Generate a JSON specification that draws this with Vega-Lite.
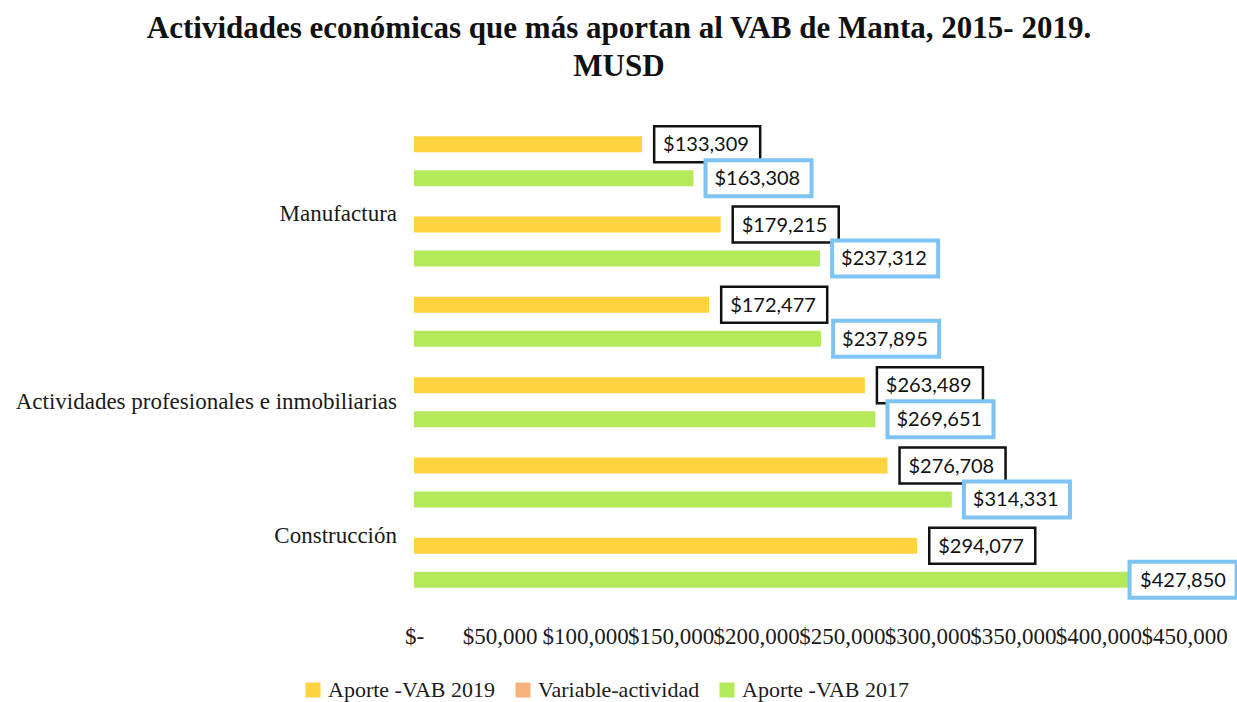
{
  "$schema": "https://vega.github.io/schema/vega-lite/v6.json",
  "width": 770,
  "height": 482,
  "autosize": "none",
  "padding": {"left": 414, "top": 121, "right": 53, "bottom": 99},
  "background": "white",
  "config": {"view": {"stroke": null}},
  "title": {
    "text": ["Actividades económicas que más aportan al VAB de Manta, 2015- 2019.", "MUSD"],
    "font": "Liberation Serif",
    "fontWeight": "bold",
    "fontSize": 31,
    "lineHeight": 38,
    "color": "#111111",
    "anchor": "middle",
    "dx": -180,
    "offset": 38
  },
  "data": {
    "values": [
      {"fila": "1", "actividad": "Manufactura", "serie": "Aporte -VAB 2019", "valor": 133309},
      {"fila": "1", "actividad": "Manufactura", "serie": "Aporte -VAB 2017", "valor": 163308},
      {"fila": "2", "actividad": "Manufactura", "serie": "Aporte -VAB 2019", "valor": 179215},
      {"fila": "2", "actividad": "Manufactura", "serie": "Aporte -VAB 2017", "valor": 237312},
      {"fila": "3", "actividad": "Actividades profesionales e inmobiliarias", "serie": "Aporte -VAB 2019", "valor": 172477},
      {"fila": "3", "actividad": "Actividades profesionales e inmobiliarias", "serie": "Aporte -VAB 2017", "valor": 237895},
      {"fila": "4", "actividad": "Actividades profesionales e inmobiliarias", "serie": "Aporte -VAB 2019", "valor": 263489},
      {"fila": "4", "actividad": "Actividades profesionales e inmobiliarias", "serie": "Aporte -VAB 2017", "valor": 269651},
      {"fila": "5", "actividad": "Construcción", "serie": "Aporte -VAB 2019", "valor": 276708},
      {"fila": "5", "actividad": "Construcción", "serie": "Aporte -VAB 2017", "valor": 314331},
      {"fila": "6", "actividad": "Construcción", "serie": "Aporte -VAB 2019", "valor": 294077},
      {"fila": "6", "actividad": "Construcción", "serie": "Aporte -VAB 2017", "valor": 427850}
    ]
  },
  "layer": [
    {
      "mark": {"type": "bar"},
      "encoding": {
        "y": {
          "field": "fila",
          "type": "nominal",
          "axis": null,
          "scale": {"paddingInner": 0.15, "paddingOuter": 0.075}
        },
        "x": {
          "field": "valor",
          "type": "quantitative",
          "scale": {"domain": [0, 450000], "nice": false, "zero": true},
          "axis": {
            "title": null,
            "values": [0, 50000, 100000, 150000, 200000, 250000, 300000, 350000, 400000, 450000],
            "labelExpr": "datum.value == 0 ? '$-' : '$' + format(datum.value, ',')",
            "grid": false,
            "domain": false,
            "ticks": false,
            "labelFont": "Liberation Serif",
            "labelFontSize": 23,
            "labelColor": "#1a1a1a",
            "labelPadding": 22,
            "labelOverlap": false,
            "labelFlush": false
          }
        },
        "yOffset": {
          "field": "serie",
          "type": "nominal",
          "scale": {"domain": ["Aporte -VAB 2019", "Aporte -VAB 2017"], "paddingInner": 0.53, "paddingOuter": 0.27}
        },
        "color": {
          "field": "serie",
          "type": "nominal",
          "scale": {
            "domain": ["Aporte -VAB 2019", "Variable-actividad", "Aporte -VAB 2017"],
            "range": ["#FFD240", "#F7B27A", "#B4EA5A"]
          },
          "legend": {
            "title": null,
            "orient": "none",
            "legendX": -112,
            "legendY": 558,
            "direction": "horizontal",
            "symbolType": "square",
            "symbolSize": 225,
            "symbolStrokeWidth": 0,
            "labelFont": "Liberation Serif",
            "labelFontSize": 22,
            "labelColor": "#1a1a1a",
            "columnPadding": 16,
            "labelLimit": 400
          }
        }
      }
    },
    {
      "transform": [{"filter": "datum.valor < 400000"}],
      "mark": {"type": "point", "shape": "M0.67,-1H6.56V1H0.67Z", "size": 1296, "filled": true, "fill": "white", "opacity": 1},
      "encoding": {
        "y": {"field": "fila", "type": "nominal"},
        "x": {"field": "valor", "type": "quantitative"},
        "yOffset": {"field": "serie", "type": "nominal"},
        "stroke": {"condition": {"test": "datum.serie == 'Aporte -VAB 2019'", "value": "#111111"}, "value": "#7DC3F3"},
        "strokeWidth": {"condition": {"test": "datum.serie == 'Aporte -VAB 2019'", "value": 2.5}, "value": 4}
      }
    },
    {
      "transform": [{"filter": "datum.valor >= 400000"}],
      "mark": {"type": "point", "shape": "M-0.92,-1H5.03V1H-0.92Z", "size": 1296, "filled": true, "fill": "white", "opacity": 1},
      "encoding": {
        "y": {"field": "fila", "type": "nominal"},
        "x": {"field": "valor", "type": "quantitative"},
        "yOffset": {"field": "serie", "type": "nominal"},
        "stroke": {"value": "#7DC3F3"},
        "strokeWidth": {"value": 4}
      }
    },
    {
      "transform": [{"filter": "datum.valor < 400000"}],
      "mark": {"type": "text", "align": "left", "baseline": "middle", "dx": 21, "dy": 1, "font": "Lato", "fontSize": 20, "color": "#111111"},
      "encoding": {
        "y": {"field": "fila", "type": "nominal"},
        "x": {"field": "valor", "type": "quantitative"},
        "yOffset": {"field": "serie", "type": "nominal"},
        "text": {"field": "valor", "type": "quantitative", "format": "$,.0f"}
      }
    },
    {
      "transform": [{"filter": "datum.valor >= 400000"}],
      "mark": {"type": "text", "align": "left", "baseline": "middle", "dx": -6, "dy": 1, "font": "Lato", "fontSize": 20, "color": "#111111"},
      "encoding": {
        "y": {"field": "fila", "type": "nominal"},
        "x": {"field": "valor", "type": "quantitative"},
        "yOffset": {"field": "serie", "type": "nominal"},
        "text": {"field": "valor", "type": "quantitative", "format": "$,.0f"}
      }
    },
    {
      "data": {"values": [{"fila": "1", "etiqueta": "Manufactura", "base": 0}, {"fila": "5", "etiqueta": "Construcción", "base": 0}]},
      "mark": {"type": "text", "align": "right", "baseline": "middle", "dx": -17, "dy": 53, "font": "Liberation Serif", "fontSize": 23, "color": "#1a1a1a"},
      "encoding": {
        "y": {"field": "fila", "type": "nominal"},
        "x": {"field": "base", "type": "quantitative"},
        "text": {"field": "etiqueta", "type": "nominal"}
      }
    },
    {
      "data": {"values": [{"fila": "4", "etiqueta": "Actividades profesionales e inmobiliarias", "base": 0}]},
      "mark": {"type": "text", "align": "right", "baseline": "middle", "dx": -17, "dy": 0, "font": "Liberation Serif", "fontSize": 23, "color": "#1a1a1a"},
      "encoding": {
        "y": {"field": "fila", "type": "nominal"},
        "x": {"field": "base", "type": "quantitative"},
        "text": {"field": "etiqueta", "type": "nominal"}
      }
    }
  ]
}
